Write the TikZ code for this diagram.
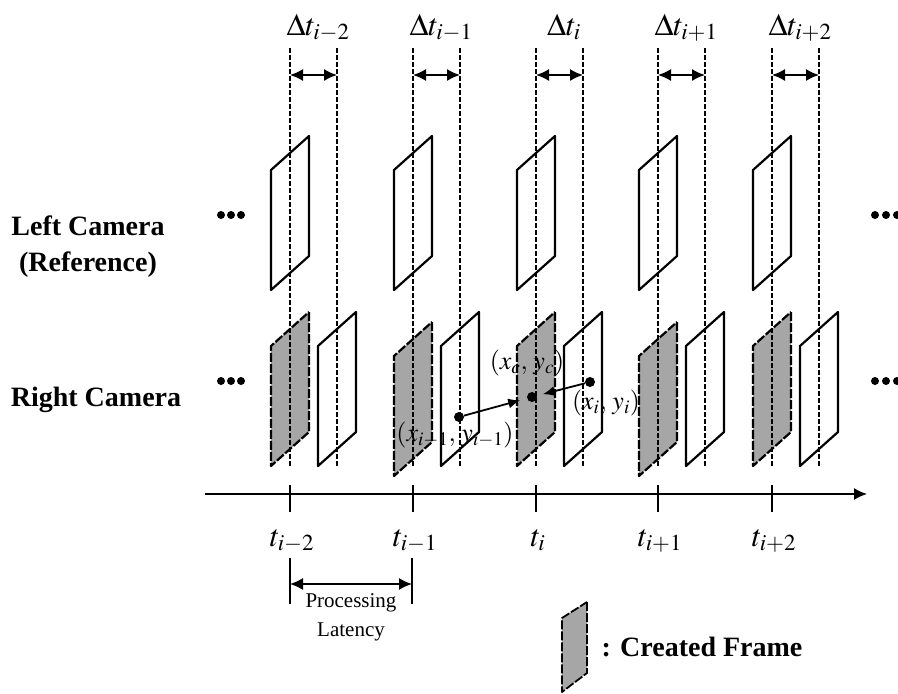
\documentclass[tikz,border=0pt]{standalone}
\usepackage{mathptmx}
\usepackage[no-math]{fontspec}
\setmainfont{Liberation Serif}
\usetikzlibrary{arrows.meta,calc}

\begin{document}
\begin{tikzpicture}[x=1pt,y=-1pt,>={Latex[length=13pt,width=12pt]},
  guide/.style={line width=1.3pt,dash pattern=on 5pt off 2pt},
  frm/.style={line width=2.2pt,line join=round},
  created/.style={frm,fill=black!35,dash pattern=on 9pt off 2pt},
  camlabel/.style={font=\fontsize{28}{36}\selectfont\bfseries,align=center},
  mathlbl/.style={font=\fontsize{31}{34}\selectfont},
  ptlbl/.style={font=\fontsize{26}{30}\selectfont},
  pt/.style={circle,fill,inner sep=0pt,minimum size=10pt},
  dotmark/.style={circle,fill,inner sep=0pt,minimum size=8pt}]

  \useasboundingbox (0,0) rectangle (898,694);

  % frames, guide lines and time marks of each step
  \foreach \x/\gy/\s [count=\k] in {290/312/i-2,413/322/i-1,536/312/i,658/322/i+1,772/312/i+2}{
    \draw[frm,shift={(\x,136)}] (19,0) -- (19,120) -- (-19,154) -- (-19,34) -- cycle;
    \draw[created,shift={(\x,\gy)}] (19,0) -- (19,120) -- (-19,154) -- (-19,34) -- cycle;
    \draw[frm,shift={(\x+47,312)}] (19,0) -- (19,120) -- (-19,154) -- (-19,34) -- cycle;
    \draw[guide] (\x,48) -- (\x,467);
    \draw[guide] (\x+47,48) -- (\x+47,467);
    \coordinate (dl\k) at (\x,75);
    \coordinate (dr\k) at (\x+47,75);
    \draw[<->,line width=1.5pt] (dl\k) -- (dr\k);
    \node[mathlbl,anchor=base] (dt\k) at (\x+28,35) {$\Delta t_{\s}$};
    \draw[line width=1.4pt] (\x,485) -- (\x,512);
    \node[mathlbl,anchor=base] (t\k) at (\x+2,546) {$t_{\s}$};
  }

  % time axis
  \coordinate (ax0) at (205,494);
  \coordinate (ax1) at (867,494);
  \draw[->,line width=1.6pt] (ax0) -- (ax1);

  % camera rows
  \node[camlabel] (leftcam) at (88,247) {Left Camera\\(Reference)};
  \node[camlabel,anchor=base] (rightcam) at (96,406) {Right Camera};
  \foreach \dx in {221,231,241,875,886,897}{
    \node[dotmark] at (\dx,215) {};
    \node[dotmark] at (\dx,381) {};
  }

  % matched points
  \node[pt] (pprev) at (459,417) {};
  \node[pt] (pc) at (532,397) {};
  \node[pt] (pcur) at (590,382) {};
  \draw[->,line width=1.8pt,>={Latex[length=12pt,width=10pt]},shorten >=7pt] (pprev) -- (pc);
  \draw[->,line width=1.8pt,>={Latex[length=12pt,width=10pt]},shorten >=6pt] (pcur) -- (pc);
  \node[ptlbl] (lc) at (527,363) {$(x_c,\,y_c)$};
  \node[ptlbl] (lprev) at (455,435) {$(x_{i-1},\,y_{i-1})$};
  \node[ptlbl] (lcur) at (606,403) {$(x_i,\,y_i)$};

  % processing latency
  \coordinate (la) at (290,584);
  \coordinate (lb) at (412,584);
  \draw[line width=1.4pt] (290,558) -- (290,604);
  \draw[line width=1.4pt] (412,558) -- (412,604);
  \draw[<->,line width=1.4pt] (la) -- (lb);
  \node[font=\fontsize{21}{29}\selectfont,align=center] (lat) at (351,617)
    {Processing\\Latency};

  % legend
  \draw[created,line width=1.8pt] (587,602) -- (587,673) -- (562,692) -- (562,618) -- cycle;
  \node[font=\fontsize{28}{32}\selectfont\bfseries,anchor=west] (legend) at (598,647)
    {: Created Frame};
\end{tikzpicture}
\end{document}
